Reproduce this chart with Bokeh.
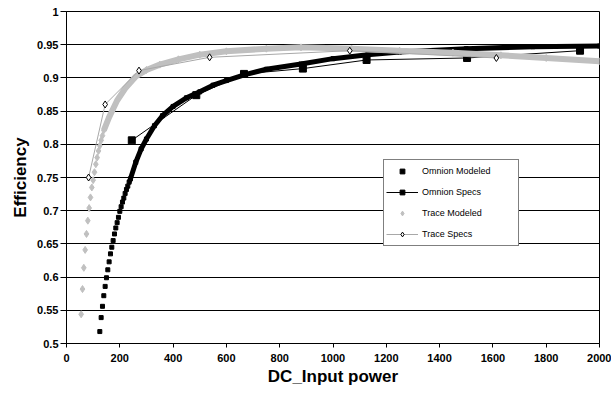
from bokeh.plotting import figure
from bokeh.models import (Range1d, FixedTicker, NumeralTickFormatter, Legend, LegendItem)
from bokeh.embed import file_html
from bokeh.resources import INLINE

# ---- data ----
omnion_model_x = [125, 130, 135, 140, 145, 150, 155, 160, 165, 170, 175, 180, 185, 190, 195,
                  200, 205, 210, 215, 220, 225, 230, 235, 240, 260, 280, 300, 330, 360, 400,
                  450, 500, 550, 600, 670, 750, 880, 1000, 1130, 1250, 1500, 1750, 2000]
omnion_model_y = [0.518, 0.539, 0.556, 0.572, 0.586, 0.599, 0.611, 0.623, 0.635, 0.645, 0.655,
                  0.665, 0.674, 0.682, 0.690, 0.699, 0.706, 0.713, 0.719, 0.726, 0.732, 0.737,
                  0.743, 0.748, 0.773, 0.793, 0.808, 0.828, 0.843, 0.857, 0.870, 0.879, 0.889,
                  0.896, 0.905, 0.913, 0.921, 0.929, 0.935, 0.939, 0.944, 0.947, 0.948]

omnion_spec_x = [245, 487, 666, 887, 1126, 1503, 1927]
omnion_spec_y = [0.806, 0.874, 0.906, 0.914, 0.927, 0.930, 0.941]

trace_model_x = [55, 60, 65, 70, 75, 80, 85, 90, 95, 100, 105, 110, 115, 120, 125, 130, 135, 140,
                 160, 190, 220, 260, 300, 350, 420, 500, 600, 750, 880, 1070, 1250, 1450, 1630,
                 1800, 2000]
trace_model_y = [0.544, 0.582, 0.614, 0.641, 0.665, 0.685, 0.704, 0.720, 0.735, 0.746, 0.758,
                 0.770, 0.780, 0.790, 0.798, 0.806, 0.813, 0.821, 0.841, 0.866, 0.884, 0.902,
                 0.912, 0.920, 0.928, 0.935, 0.940, 0.944, 0.946, 0.944, 0.941, 0.938, 0.934,
                 0.930, 0.925]

trace_spec_x = [83, 145, 272, 537, 1063, 1613]
trace_spec_y = [0.750, 0.860, 0.911, 0.931, 0.941, 0.930]

x_ticks = [0, 200, 400, 600, 800, 1000, 1200, 1400, 1600, 1800, 2000]
y_ticks = [0.5, 0.55, 0.6, 0.65, 0.7, 0.75, 0.8, 0.85, 0.9, 0.95, 1.0]

FONT = "Liberation Sans"
GRAY = "#C0C0C0"

p = figure(width=611, height=392, output_backend="svg", toolbar_location=None,
           x_range=Range1d(0, 2000), y_range=Range1d(0.5, 1.0),
           min_border_left=66, min_border_right=12, min_border_top=11, min_border_bottom=49,
           x_axis_label="DC_Input power", y_axis_label="Efficiency")

p.outline_line_color = "black"
p.outline_line_width = 1
p.background_fill_color = "white"
p.border_fill_color = "white"

p.xgrid.visible = False
p.ygrid.ticker = FixedTicker(ticks=y_ticks)
p.ygrid.grid_line_color = "black"
p.ygrid.grid_line_width = 1

for ax in (p.xaxis[0], p.yaxis[0]):
    ax.axis_line_color = "black"
    ax.major_tick_line_color = "black"
    ax.minor_tick_line_color = None
    ax.major_tick_in = 0
    ax.major_label_text_font = FONT
    ax.major_label_text_font_style = "bold"
    ax.major_label_text_font_size = "11px"
    ax.major_label_text_color = "black"
    ax.axis_label_text_font = FONT
    ax.axis_label_text_font_style = "bold"
    ax.axis_label_text_font_size = "17px"
    ax.axis_label_text_color = "black"

p.xaxis.ticker = FixedTicker(ticks=x_ticks)
p.xaxis.major_tick_out = 4
p.xaxis.major_label_standoff = 6
p.xaxis.axis_label_standoff = 2

p.yaxis.ticker = FixedTicker(ticks=y_ticks)
p.yaxis.formatter = NumeralTickFormatter(format="0.[00]")
p.yaxis.major_tick_out = 6
p.yaxis.major_label_standoff = 2
p.yaxis.axis_label_standoff = 4

# Omnion Modeled: small squares, dense part merges into a thick line
n_om = omnion_model_x.index(235)
p.line(omnion_model_x[n_om:], omnion_model_y[n_om:], line_color="black", line_width=5)
om_sc = p.scatter(omnion_model_x, omnion_model_y, marker="square", size=4,
                  fill_color="black", line_color="black")

# Omnion Specs
os_ln = p.line(omnion_spec_x, omnion_spec_y, line_color="black", line_width=1)
os_sc = p.scatter(omnion_spec_x, omnion_spec_y, marker="square", size=7,
                  fill_color="black", line_color="black")

# Trace Modeled
n_tm = trace_model_x.index(140)
p.line(trace_model_x[n_tm:], trace_model_y[n_tm:], line_color=GRAY, line_width=6)
tm_sc = p.scatter(trace_model_x, trace_model_y, marker="diamond", size=7,
                  fill_color=GRAY, line_color=GRAY)

# Trace Specs
ts_ln = p.line(trace_spec_x, trace_spec_y, line_color="#A8A8A8", line_width=1)
ts_sc = p.scatter(trace_spec_x, trace_spec_y, marker="diamond", size=7,
                  fill_color="white", line_color="black", line_width=1)

legend = Legend(items=[
    LegendItem(label="Omnion Modeled", renderers=[om_sc]),
    LegendItem(label="Omnion Specs", renderers=[os_ln, os_sc]),
    LegendItem(label="Trace Modeled", renderers=[tm_sc]),
    LegendItem(label="Trace Specs", renderers=[ts_ln, ts_sc]),
], location=(317, 97))
legend.label_text_font = FONT
legend.label_text_font_size = "9px"
legend.label_text_color = "black"
legend.border_line_color = "black"
legend.border_line_width = 1
legend.background_fill_color = "white"
legend.background_fill_alpha = 1
legend.padding = 2
legend.spacing = 3
legend.margin = 0
legend.glyph_width = 32
legend.glyph_height = 12
legend.label_height = 18
legend.label_width = 94
legend.label_standoff = 4
p.add_layout(legend, "center")

open("out.html", "w").write(file_html(p, INLINE))
